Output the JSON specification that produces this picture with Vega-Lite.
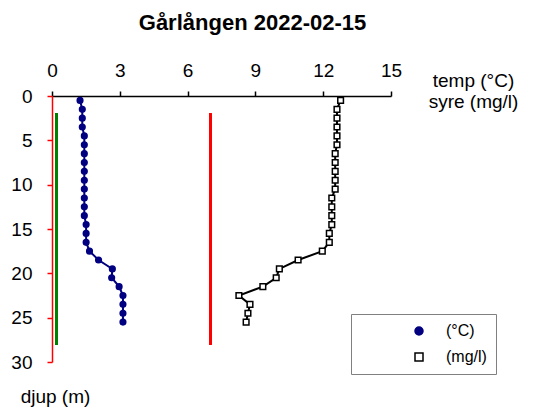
{
  "$schema": "https://vega.github.io/schema/vega-lite/v6.json",
  "width": 339,
  "height": 266,
  "autosize": {"type": "none"},
  "padding": {"left": 52, "top": 96, "right": 146, "bottom": 50},
  "background": "white",
  "title": {
    "text": "Gårlången 2022-02-15",
    "font": "Liberation Sans",
    "fontSize": 22,
    "fontWeight": "bold",
    "color": "black",
    "anchor": "middle",
    "dx": 31,
    "offset": 26
  },
  "data": {
    "values": [
      {"serie": "(°C)", "depth": 0.5, "value": 1.24},
      {"serie": "(°C)", "depth": 1.5, "value": 1.34},
      {"serie": "(°C)", "depth": 2.5, "value": 1.34},
      {"serie": "(°C)", "depth": 3.5, "value": 1.34},
      {"serie": "(°C)", "depth": 4.5, "value": 1.43},
      {"serie": "(°C)", "depth": 5.5, "value": 1.43},
      {"serie": "(°C)", "depth": 6.5, "value": 1.43},
      {"serie": "(°C)", "depth": 7.5, "value": 1.43},
      {"serie": "(°C)", "depth": 8.5, "value": 1.43},
      {"serie": "(°C)", "depth": 9.5, "value": 1.43},
      {"serie": "(°C)", "depth": 10.5, "value": 1.43},
      {"serie": "(°C)", "depth": 11.5, "value": 1.43},
      {"serie": "(°C)", "depth": 12.5, "value": 1.43},
      {"serie": "(°C)", "depth": 13.5, "value": 1.43},
      {"serie": "(°C)", "depth": 14.5, "value": 1.51},
      {"serie": "(°C)", "depth": 15.5, "value": 1.51},
      {"serie": "(°C)", "depth": 16.5, "value": 1.51},
      {"serie": "(°C)", "depth": 17.5, "value": 1.66},
      {"serie": "(°C)", "depth": 18.5, "value": 2.06},
      {"serie": "(°C)", "depth": 19.5, "value": 2.67},
      {"serie": "(°C)", "depth": 20.5, "value": 2.64},
      {"serie": "(°C)", "depth": 21.5, "value": 2.97},
      {"serie": "(°C)", "depth": 22.5, "value": 3.14},
      {"serie": "(°C)", "depth": 23.5, "value": 3.14},
      {"serie": "(°C)", "depth": 24.5, "value": 3.14},
      {"serie": "(°C)", "depth": 25.5, "value": 3.14},
      {"serie": "(mg/l)", "depth": 0.5, "value": 12.77},
      {"serie": "(mg/l)", "depth": 1.5, "value": 12.61},
      {"serie": "(mg/l)", "depth": 2.5, "value": 12.61},
      {"serie": "(mg/l)", "depth": 3.5, "value": 12.61},
      {"serie": "(mg/l)", "depth": 4.5, "value": 12.61},
      {"serie": "(mg/l)", "depth": 5.5, "value": 12.61},
      {"serie": "(mg/l)", "depth": 6.5, "value": 12.53},
      {"serie": "(mg/l)", "depth": 7.5, "value": 12.53},
      {"serie": "(mg/l)", "depth": 8.5, "value": 12.53},
      {"serie": "(mg/l)", "depth": 9.5, "value": 12.53},
      {"serie": "(mg/l)", "depth": 10.5, "value": 12.53},
      {"serie": "(mg/l)", "depth": 11.5, "value": 12.38},
      {"serie": "(mg/l)", "depth": 12.5, "value": 12.38},
      {"serie": "(mg/l)", "depth": 13.5, "value": 12.38},
      {"serie": "(mg/l)", "depth": 14.5, "value": 12.38},
      {"serie": "(mg/l)", "depth": 15.5, "value": 12.27},
      {"serie": "(mg/l)", "depth": 16.5, "value": 12.27},
      {"serie": "(mg/l)", "depth": 17.5, "value": 11.96},
      {"serie": "(mg/l)", "depth": 18.5, "value": 10.89},
      {"serie": "(mg/l)", "depth": 19.5, "value": 10.06},
      {"serie": "(mg/l)", "depth": 20.5, "value": 9.92},
      {"serie": "(mg/l)", "depth": 21.5, "value": 9.33},
      {"serie": "(mg/l)", "depth": 22.5, "value": 8.27},
      {"serie": "(mg/l)", "depth": 23.5, "value": 8.76},
      {"serie": "(mg/l)", "depth": 24.5, "value": 8.67},
      {"serie": "(mg/l)", "depth": 25.5, "value": 8.59}
    ]
  },
  "encoding": {
    "x": {
      "field": "value",
      "type": "quantitative",
      "scale": {"domain": [0, 15], "nice": false, "zero": false},
      "axis": {
        "orient": "top",
        "values": [0, 3, 6, 9, 12, 15],
        "grid": false,
        "domainColor": "#000000",
        "domainWidth": 1.5,
        "tickColor": "#000000",
        "tickWidth": 1.5,
        "tickSize": 5,
        "labelColor": "#000000",
        "labelFontSize": 19,
        "labelFlush": false,
        "labelPadding": 11,
        "title": ["temp (°C)", "syre (mg/l)"],
        "titleColor": "#000000",
        "titleFontSize": 19,
        "titleFontWeight": "normal",
        "titleX": 421,
        "titleY": -16,
        "titleAlign": "center",
        "titleBaseline": "middle",
        "titleAngle": 0,
        "titleLineHeight": 21
      }
    },
    "y": {
      "field": "depth",
      "type": "quantitative",
      "scale": {"domain": [0, 30], "nice": false, "reverse": true},
      "axis": {
        "orient": "left",
        "values": [0, 5, 10, 15, 20, 25, 30],
        "grid": false,
        "domain": true,
        "ticks": true,
        "domainColor": "red",
        "domainWidth": 1.5,
        "tickColor": "red",
        "tickWidth": 1.5,
        "tickSize": 5,
        "labelColor": "#000000",
        "labelFontSize": 19,
        "labelPadding": 15,
        "title": "djup (m)",
        "titleColor": "#000000",
        "titleFontSize": 19,
        "titleFontWeight": "normal",
        "titleX": 3,
        "titleY": 300,
        "titleAlign": "center",
        "titleBaseline": "middle",
        "titleAngle": 0
      }
    }
  },
  "layer": [
    {
      "mark": {"type": "rule", "color": "red", "strokeWidth": 2},
      "encoding": {
        "x": {"datum": 7},
        "y": {"datum": 2},
        "y2": {"datum": 28}
      }
    },
    {
      "mark": {"type": "rule", "color": "green", "strokeWidth": 2},
      "encoding": {
        "x": {"datum": 0.2},
        "y": {"datum": 2},
        "y2": {"datum": 28}
      }
    },
    {
      "transform": [{"filter": "datum.serie === '(°C)'"}],
      "mark": {"type": "line", "color": "#000080", "strokeWidth": 2},
      "encoding": {"order": {"field": "depth", "type": "quantitative"}}
    },
    {
      "transform": [{"filter": "datum.serie === '(mg/l)'"}],
      "mark": {"type": "line", "color": "#000000", "strokeWidth": 2},
      "encoding": {"order": {"field": "depth", "type": "quantitative"}}
    },
    {
      "mark": {"type": "point", "strokeWidth": 1.5, "opacity": 1, "size": 32},
      "encoding": {
        "shape": {
          "field": "serie",
          "type": "nominal",
          "scale": {"domain": ["(°C)", "(mg/l)"], "range": ["circle", "square"]},
          "legend": {
            "title": null,
            "orient": "none",
            "legendX": 299,
            "legendY": 218,
            "padding": 9,
            "rowPadding": 10,
            "symbolOffset": 51,
            "labelOffset": 19,
            "symbolSize": 64,
            "symbolStrokeWidth": 1.5
          }
        },
        "fill": {
          "field": "serie",
          "type": "nominal",
          "scale": {"domain": ["(°C)", "(mg/l)"], "range": ["#000080", "#ffffff"]}
        },
        "stroke": {
          "field": "serie",
          "type": "nominal",
          "scale": {"domain": ["(°C)", "(mg/l)"], "range": ["#000080", "#000000"]}
        }
      }
    }
  ],
  "config": {
    "view": {"stroke": null},
    "font": "Liberation Sans",
    "legend": {
      "strokeColor": "#808080",
      "labelFontSize": 16,
      "labelColor": "#000000"
    }
  }
}
